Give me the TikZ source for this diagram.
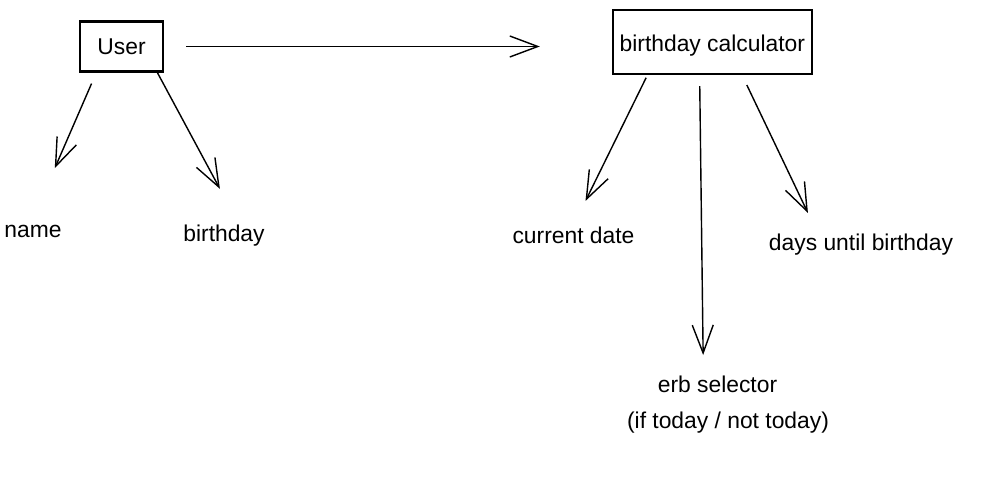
\documentclass[tikz,border=0pt]{standalone}
\usepackage{fontspec}
\setmainfont{Liberation Sans}
\usetikzlibrary{arrows.meta}

\begin{document}
\begin{tikzpicture}[
    x=0.02cm, y=-0.02cm,
    box/.style={rectangle, draw=black, line width=1.2pt, inner sep=0pt,
      font=\fontsize{13}{16}\selectfont},
    lbl/.style={font=\fontsize{13}{16}\selectfont, inner sep=2pt},
    arr/.style={-{Straight Barb[length=0.56cm, width=0.42cm]}, line width=0.8pt}
  ]
  \useasboundingbox (0,0) rectangle (990,487);
  \node[box, minimum width=1.66cm, minimum height=1cm]    (user) at (121.5,46.5) {User};
  \node[box, minimum width=3.98cm, minimum height=1.28cm, text height=14pt] (calc) at (712.3,42) {birthday calculator};
  \node[lbl] (name)    at (33,231)    {name};
  \node[lbl] (bday)    at (224,235.5) {birthday};
  \node[lbl] (curdate) at (573.5,235.5) {current date};
  \node[lbl] (days)    at (861,244.5) {days until birthday};
  \node[lbl] (erb)     at (717.5,384) {erb selector};
  \node[lbl] (erbnote) at (728,423)   {(if today / not today)};
  \draw[arr, shorten <=0.44cm, shorten >=1.44cm] (user.east) -- (user.east -| calc.west);
  \draw[arr, shorten <=0.24cm, shorten >=1.37cm] (user.226) -- ([xshift=-0.11cm]name.center);
  \draw[arr, shorten >=1.06cm] (user.324) -- ([xshift=0.42cm]bday.center);
  \draw[arr, shorten <=0.06cm, shorten >=0.77cm] (calc.207) -- ([xshift=-0.1cm]curdate.center);
  \draw[arr, shorten <=0.22cm, shorten >=0.58cm] (calc.249) -- ([xshift=-0.28cm]erb.center);
  \draw[arr, shorten <=0.22cm, shorten >=0.7cm]  (calc.312) -- ([xshift=-0.76cm]days.center);
\end{tikzpicture}
\end{document}
